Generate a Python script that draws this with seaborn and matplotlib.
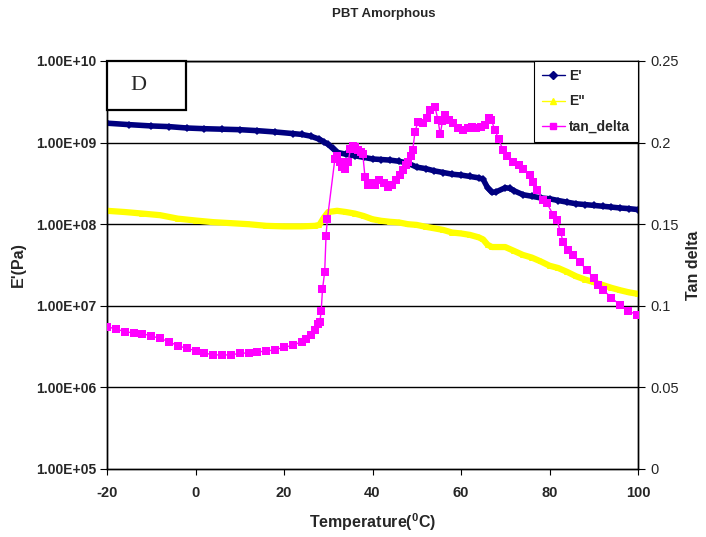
import matplotlib
matplotlib.use("Agg")
import matplotlib.pyplot as plt
import seaborn as sns
import pandas as pd
from matplotlib.patches import Rectangle
from matplotlib.lines import Line2D
from matplotlib.ticker import FixedLocator, FixedFormatter, NullLocator

# ---------------- data ----------------
temp_e1 = [-20, -15, -10, -6, -2, 2, 6, 10, 14, 18, 22, 24, 26, 28, 29, 30, 31, 32,
           34, 36, 38, 40, 42, 44, 46, 48, 50, 52, 54, 56, 58, 60, 62, 64, 65, 66,
           67, 68, 70, 71, 72, 74, 76, 78, 80, 82, 84, 86, 88, 90, 92, 94, 96, 98, 100]
e_storage = [1.73e9, 1.66e9, 1.60e9, 1.57e9, 1.51e9, 1.48e9, 1.46e9, 1.44e9, 1.40e9,
             1.35e9, 1.29e9, 1.26e9, 1.20e9, 1.10e9, 1.02e9, 9.5e8, 8.5e8, 7.6e8,
             7.2e8, 6.9e8, 6.6e8, 6.3e8, 6.2e8, 6.1e8, 5.9e8, 5.6e8, 5.0e8, 4.8e8,
             4.5e8, 4.3e8, 4.1e8, 4.0e8, 3.85e8, 3.7e8, 3.55e8, 2.8e8, 2.45e8, 2.5e8,
             2.8e8, 2.75e8, 2.57e8, 2.3e8, 2.2e8, 2.1e8, 2.05e8, 1.95e8, 1.86e8,
             1.78e8, 1.74e8, 1.70e8, 1.66e8, 1.62e8, 1.58e8, 1.55e8, 1.51e8]

temp_e2 = [-20, -16, -12, -8, -4, 0, 4, 8, 12, 16, 20, 24, 27, 28, 29, 30, 32, 34,
           36, 38, 40, 42, 44, 46, 48, 50, 52, 54, 56, 58, 60, 62, 64, 65, 66, 67,
           70, 72, 74, 76, 78, 80, 82, 84, 86, 88, 90, 92, 94, 96, 98, 100]
e_loss = [1.46e8, 1.41e8, 1.35e8, 1.29e8, 1.17e8, 1.11e8, 1.06e8, 1.03e8, 1.0e8,
          9.55e7, 9.4e7, 9.4e7, 9.55e7, 9.8e7, 1.2e8, 1.41e8, 1.46e8, 1.41e8,
          1.35e8, 1.26e8, 1.15e8, 1.10e8, 1.07e8, 1.05e8, 1.0e8, 9.8e7, 9.3e7,
          8.9e7, 8.5e7, 7.9e7, 7.7e7, 7.4e7, 6.9e7, 6.5e7, 5.6e7, 5.25e7, 5.25e7,
          4.7e7, 4.2e7, 3.9e7, 3.5e7, 3.1e7, 2.9e7, 2.6e7, 2.3e7, 2.1e7, 1.95e7,
          1.8e7, 1.66e7, 1.55e7, 1.46e7, 1.40e7]

temp_td = [-20, -18, -16, -14, -12, -10, -8, -6, -4, -2, 0, 2, 4, 6, 8, 10, 12, 14,
           16, 18, 20, 22, 24, 25, 26, 27, 27.6, 28.1, 28.4, 28.7, 29.2, 29.5, 29.8,
           31.5, 32, 32.6, 33.2, 33.8, 34.5, 35, 35.5, 36, 36.7, 37.3, 37.8, 38.3,
           39, 39.6, 40.5, 41.5, 42.5, 43.5, 44.5, 45.4, 46.2, 46.9, 47.5, 48, 48.6,
           49.1, 49.6, 50.3, 51.3, 52.3, 53, 54.1, 54.8, 55.3, 55.8, 56.4, 57.3,
           58.3, 59.3, 60.5, 61.5, 62.5, 63.5, 64.5, 65.5, 66.3, 66.8, 67.7, 68.5,
           69.5, 70.5, 71.8, 73, 74, 75.6, 76.3, 77.1, 78.5, 79.4, 80.9, 81.7, 82.5,
           83.1, 84.2, 85.4, 86.8, 88.4, 90, 91, 92.1, 94, 95.9, 97.8, 99.7]
tan_delta = [0.087, 0.086, 0.084, 0.0835, 0.083, 0.0815, 0.080, 0.078, 0.0755, 0.074,
             0.0725, 0.071, 0.070, 0.0698, 0.070, 0.0708, 0.0712, 0.0718, 0.0722,
             0.0732, 0.0745, 0.0758, 0.078, 0.0795, 0.082, 0.085, 0.089, 0.090,
             0.0968, 0.110, 0.121, 0.143, 0.153, 0.190, 0.192, 0.188, 0.185, 0.184,
             0.188, 0.196, 0.198, 0.197, 0.1955, 0.194, 0.193, 0.179, 0.174, 0.175,
             0.174, 0.177, 0.175, 0.173, 0.174, 0.177, 0.180, 0.183, 0.186, 0.188,
             0.192, 0.1955, 0.2067, 0.2128, 0.212, 0.215, 0.220, 0.222, 0.214, 0.205,
             0.213, 0.217, 0.214, 0.212, 0.209, 0.2077, 0.209, 0.2098, 0.209, 0.2095,
             0.211, 0.215, 0.214, 0.2077, 0.202, 0.1955, 0.192, 0.188, 0.186, 0.184,
             0.180, 0.176, 0.171, 0.165, 0.1628, 0.1556, 0.1526, 0.145, 0.139, 0.134,
             0.1311, 0.127, 0.122, 0.117, 0.113, 0.1097, 0.105, 0.1005, 0.097, 0.0944]

left_ticks = [1e5, 1e6, 1e7, 1e8, 1e9, 1e10]
right_ticks = [0, 0.05, 0.1, 0.15, 0.2, 0.25]
right_tick_labels = ["0", "0.05", "0.1", "0.15", "0.2", "0.25"]
x_ticks = [-20, 0, 20, 40, 60, 80, 100]
series_names = ["E'", 'E"', "tan_delta"]

# ---------------- styling ----------------
sns.set_theme(style="white")
plt.rcParams["font.family"] = ["Liberation Sans", "DejaVu Sans"]
plt.rcParams["mathtext.fontset"] = "custom"
plt.rcParams["mathtext.bf"] = "Liberation Sans:bold"
plt.rcParams["mathtext.rm"] = "Liberation Sans"
plt.rcParams["mathtext.default"] = "bf"

c_e1 = "#000080"
c_e2 = "#FFFF00"
c_td = "#FF00FF"

fig = plt.figure(figsize=(7.06, 5.37), dpi=100)
ax1 = fig.add_axes([107 / 706, 1 - 469 / 537, 531 / 706, 408 / 537])
ax1.set_facecolor("white")

df1 = pd.DataFrame({"T": temp_e1, "E1": e_storage})
df2 = pd.DataFrame({"T": temp_e2, "E2": e_loss})
df3 = pd.DataFrame({"T": temp_td, "td": tan_delta})

sns.lineplot(data=df1, x="T", y="E1", ax=ax1, color=c_e1, lw=4, marker="D",
             markersize=4, markeredgewidth=0, estimator=None, sort=False, zorder=3)
sns.lineplot(data=df2, x="T", y="E2", ax=ax1, color=c_e2, lw=4.5, marker="^",
             markersize=5, markeredgewidth=0, estimator=None, sort=False, zorder=3)

ax1.set_yscale("log")
ax1.set_ylim(1e5, 1e10)
ax1.set_xlim(-20, 100)
ax1.yaxis.set_major_locator(FixedLocator(left_ticks))
ax1.yaxis.set_major_formatter(FixedFormatter([f"{v:.2E}" for v in left_ticks]))
ax1.yaxis.set_minor_locator(NullLocator())
ax1.set_xticks(x_ticks)
ax1.set_xticklabels([str(v) for v in x_ticks])
for lab in ax1.get_yticklabels():
    lab.set_fontweight("bold")
    lab.set_fontsize(10)
for lab in ax1.get_xticklabels():
    lab.set_fontweight("bold")
    lab.set_fontsize(10.5)
ax1.tick_params(axis="y", which="major", direction="out", length=5, width=0.8,
                color="black", pad=3, left=True)
ax1.tick_params(axis="x", which="major", direction="out", length=4, width=0.8,
                color="black", pad=8, bottom=True)
ax1.grid(False)
for v in left_ticks[1:]:
    ax1.axhline(v, color="black", lw=1.0, zorder=1)
for s in ax1.spines.values():
    s.set_color("black")
    s.set_linewidth(1.0)
ax1.set_xlabel("Temperature($^{0}$C)", fontsize=11.5, fontweight="bold")
ax1.xaxis.label.set_va("center")
ax1.xaxis.set_label_coords(0.5, (469 - 522) / 408)
ax1.set_ylabel("E'(Pa)", fontsize=11.5, fontweight="bold")
ax1.yaxis.label.set_va("center")
ax1.yaxis.set_label_coords((18 - 107) / 531, 0.5)

ax2 = ax1.twinx()
sns.lineplot(data=df3, x="T", y="td", ax=ax2, color=c_td, lw=1.0, marker="s",
             markersize=5.5, markeredgewidth=0, estimator=None, sort=False, zorder=4)
ax2.set_ylim(0, 0.25)
ax2.set_yticks(right_ticks)
ax2.set_yticklabels(right_tick_labels, fontsize=10.5)
ax2.tick_params(axis="y", direction="out", length=5, width=0.8, color="black", right=True, pad=4)
ax2.set_ylabel("Tan delta", fontsize=11.5, fontweight="bold")
ax2.yaxis.label.set_va("center")
ax2.yaxis.set_label_coords((693 - 107) / 531, 0.5)
ax2.grid(False)
for s in ax2.spines.values():
    s.set_color("black")
    s.set_linewidth(1.0)

# legend
handles = [
    Line2D([], [], color=c_e1, lw=1, marker="D", markersize=4),
    Line2D([], [], color=c_e2, lw=1, marker="^", markersize=5),
    Line2D([], [], color=c_td, lw=1, marker="s", markersize=4.5),
]
leg = ax2.legend(handles, series_names, loc="upper right", bbox_to_anchor=(1.0, 1.0),
                 frameon=True, fancybox=False, framealpha=1, edgecolor="black",
                 prop={"weight": "bold", "size": 10}, handlelength=1.6,
                 labelspacing=0.8, borderpad=0.6, handletextpad=0.3,
                 borderaxespad=0)
leg.get_frame().set_linewidth(0.8)

# "D" box
ax2.add_patch(Rectangle((0, 0.88), 0.149, 0.12, transform=ax2.transAxes,
                        fill=True, facecolor="white", edgecolor="black",
                        lw=1.6, zorder=6, clip_on=False))
ax2.text(0.06, 0.94, "D", transform=ax2.transAxes, ha="center", va="center",
         fontsize=16, family=["Liberation Serif", "DejaVu Serif"], zorder=7)

fig.text(384 / 706, 1 - 14 / 537, "PBT Amorphous", ha="center", va="center",
         fontsize=9.5, fontweight="bold")

fig.savefig("out.png", dpi=100)
